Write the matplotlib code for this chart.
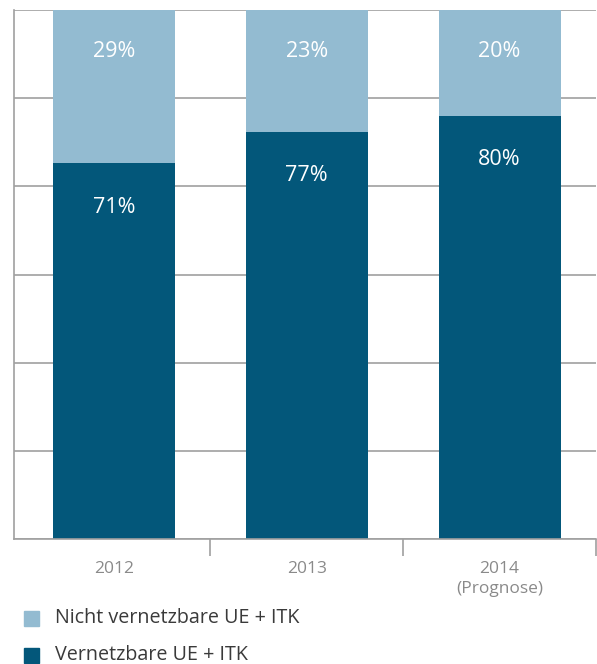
import numpy as np
import matplotlib
matplotlib.use("Agg")
import matplotlib.pyplot as plt
from matplotlib.patches import Rectangle

plt.rcParams['font.family'] = ['Open Sans', 'DejaVu Sans']

# share of devices per year (percent)
years = ['2012', '2013', '2014\n(Prognose)']
vernetzbar = [71, 77, 80]
nicht_vernetzbar = [29, 23, 20]
legend_labels = ['Nicht vernetzbare UE + ITK', 'Vernetzbare UE + ITK']

dark = '#03577a'
light = '#93bbd1'
grey = '#a0a0a0'

fig = plt.figure(figsize=(5.97, 6.64), dpi=100)
ax = fig.add_axes([14/597, 125/664, 582/597, 529/664])

x = np.arange(len(years))
w = 0.632
ax.bar(x, vernetzbar, w, color=dark, zorder=2)
ax.bar(x, nicht_vernetzbar, w, bottom=vernetzbar, color=light, zorder=2)

for xi, v, n in zip(x, vernetzbar, nicht_vernetzbar):
    ax.text(xi, 100 - 7.8, f'{n}%', color='white', ha='center', va='center', fontsize=15.5)
    ax.text(xi, v - 8.3, f'{v}%', color='white', ha='center', va='center', fontsize=15.5)

ax.set_xlim(-0.518, 2.497)
ax.set_ylim(0, 100)
ax.set_yticks(np.linspace(0, 100, 7))
ax.yaxis.grid(True, color=grey, lw=1.2)
ax.set_axisbelow(True)
ax.tick_params(axis='y', length=0, labelleft=False)

ax.set_xticks(x + 0.5, minor=False)
ax.set_xticklabels([])
ax.tick_params(axis='x', length=12, width=1.2, color=grey)
for xi, lab in zip(x, years):
    ax.text(xi, -4.2, lab, ha='center', va='top', color='#8a8a8a', fontsize=12.5,
            linespacing=1.3, transform=ax.transData)

for s in ('top', 'right'):
    ax.spines[s].set_visible(False)
for s in ('left', 'bottom'):
    ax.spines[s].set_color(grey)
    ax.spines[s].set_linewidth(1.2)

# legend drawn by hand in figure pixels
for i, (lab, col) in enumerate(zip(legend_labels, [light, dark])):
    yc = 664 - (618 + i * 37)
    fig.patches.append(Rectangle((24/597, (yc - 7.5)/664), 15/597, 15/664,
                                 transform=fig.transFigure, color=col))
    fig.text(55/597, yc/664, lab, va='center', ha='left', fontsize=14.2, color='#3a3a3a')

fig.savefig('out.png', dpi=100)
